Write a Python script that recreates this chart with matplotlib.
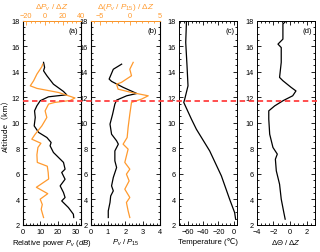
import numpy as np
import matplotlib
matplotlib.use("Agg")
import matplotlib.pyplot as plt
from matplotlib.ticker import MultipleLocator, AutoMinorLocator
from matplotlib.lines import Line2D
from matplotlib.transforms import blended_transform_factory

plt.rcParams['font.family'] = ['Liberation Sans', 'DejaVu Sans']
plt.rcParams['mathtext.fontset'] = 'custom'
plt.rcParams['mathtext.rm'] = 'Liberation Sans'
plt.rcParams['mathtext.it'] = 'Liberation Sans:italic'

ORANGE = "#ff9a2e"
RED = "#ff4040"

# (a) relative power Pv (dB) and its vertical gradient
alt_pa = [14.74, 14.35, 14.08, 13.69, 13.03, 12.46, 12.2, 12.04, 11.73, 11.33, 10.94,
          10.42, 9.76, 9.25, 8.85, 8.46, 8.2, 7.68, 6.9, 6.37, 6.11, 5.58, 5.06, 4.54,
          4.15, 3.88, 3.36, 2.84, 2.58]
pv_db = [11.8, 12.4, 11.8, 13.7, 17.4, 23.1, 24.9, 14.6, 9.9, 8.0, 6.7,
         7.1, 6.5, 9.0, 13.7, 16.1, 15.5, 17.4, 23.1, 24.0, 22.1, 24.0, 21.2, 23.1,
         24.0, 22.1, 25.9, 28.7, 28.9]
alt_dpa = [14.6, 14.4, 13.82, 13.3, 12.9, 12.7, 12.38, 11.95, 11.75, 11.6, 11.47,
           10.94, 10.42, 9.76, 9.11, 8.72, 8.4, 8.07, 7.5, 6.9, 6.6, 6.1, 5.6, 4.95,
           4.45, 4.02, 3.6, 3.23, 2.58]
dpv_dz = [-2.0, -3.0, -8.4, -12.0, -15.7, -8.4, 15.3, 33.4, 28.0, 11.2, 4.4,
          0.6, 2.5, -3.0, -10.3, -14.0, -4.0, -7.3, -8.4, -8.0, 3.0, 4.0, 4.5, -9.0,
          3.5, -4.8, -2.5, -3.7, -1.1]

# (b) Pv / P15 and its vertical gradient
alt_pb = [14.6, 14.2, 13.43, 13.25, 12.78, 12.3, 12.12, 11.78, 11.47, 10.68, 9.9,
          9.11, 8.59, 8.33, 7.8, 7.02, 6.5, 5.72, 5.06, 4.67, 4.27, 3.76, 3.1, 2.58]
pv_p15 = [1.79, 1.31, 1.07, 1.21, 1.88, 2.66, 2.08, 1.5, 1.40, 1.27, 1.12,
          1.21, 1.5, 1.6, 1.40, 1.40, 1.5, 1.31, 1.21, 1.31, 1.16, 1.12, 1.02, 1.02]
alt_dpb = [14.74, 14.2, 13.69, 13.17, 13.03, 12.64, 12.38, 12.12, 11.86, 11.6, 10.68,
           9.64, 8.85, 8.33, 7.94, 6.9, 6.37, 5.98, 5.45, 4.8, 4.15, 3.76, 3.1, 2.58]
dratio_dz = [0.56, 0.0, 0.28, -1.39, -2.2, -1.94, 0.28, 3.05, 1.94, 0.28, 0.0,
             -0.28, -0.44, -1.11, -0.28, -0.83, 0.0, -0.56, -0.11, -0.83, 0.0, -0.56,
             -0.28, 0.0]

# (c) temperature
alt_t = [18.0, 16.3, 14.47, 12.9, 11.86, 11.6, 10.29, 9.5, 7.8, 5.84, 4.0, 2.97, 2.45]
temp = [-62.0, -63.0, -61.3, -60.0, -64.3, -65.6, -55.5, -49.0, -31.5, -16.1, -5.2, 1.3, 2.6]

# (d) potential temperature gradient
alt_th = [18.0, 17.74, 16.56, 16.17, 15.9, 14.74, 13.56, 13.3, 12.78, 12.5, 12.12,
          11.73, 11.33, 10.94, 10.29, 9.11, 8.07, 7.55, 7.15, 6.24, 5.19, 4.02, 2.97, 2.45]
dtheta_dz = [-0.47, -0.86, -0.86, -1.45, -1.06, -1.06, -1.26, -0.86, 0.12, 0.7, 0.31,
             -0.86, -1.84, -2.55, -2.55, -2.44, -2.05, -1.53, -1.76, -1.65, -1.26, -1.06,
             -0.75, -0.59]

tropopause = 11.7

fig = plt.figure(figsize=(3.2, 2.53), dpi=100)
bottom, height = 0.107, 0.807
ax_a = fig.add_axes([0.071, bottom, 0.182, height])
ax_b = fig.add_axes([0.283, bottom, 0.217, height])
ax_c = fig.add_axes([0.559, bottom, 0.183, height])
ax_d = fig.add_axes([0.802, bottom, 0.183, height])

fs = 5.3
lfs = 5.6
lw = 0.9


def style(ax, top=True):
    ax.set_ylim(2, 18)
    ax.yaxis.set_major_locator(MultipleLocator(2))
    ax.yaxis.set_minor_locator(MultipleLocator(0.5))
    ax.xaxis.set_minor_locator(AutoMinorLocator())
    ax.tick_params(which="both", direction="in", right=True, top=top,
                   labelsize=fs, pad=2, width=0.6)
    ax.tick_params(which="major", length=3)
    ax.tick_params(which="minor", length=1.6)
    for s in ax.spines.values():
        s.set_linewidth(0.7)


def top_axis(ax, xlim, ticks):
    tw = ax.twiny()
    tw.set_xlim(*xlim)
    tw.set_xticks(ticks)
    tw.xaxis.set_minor_locator(AutoMinorLocator())
    tw.tick_params(which="both", direction="in", colors=ORANGE, labelsize=fs,
                   pad=1.5, width=0.6)
    tw.tick_params(which="major", length=3)
    tw.tick_params(which="minor", length=1.6)
    tw.spines["top"].set_color(ORANGE)
    tw.spines["top"].set_linewidth(0.7)
    return tw


# (a)
style(ax_a, top=False)
ax_a.plot(pv_db, alt_pa, color="black", lw=lw)
ax_a.set_xlim(0, 33)
ax_a.set_xticks([0, 10, 20, 30])
ax_a.set_xlabel("Relative power $P_v$ $(dB)$", fontsize=lfs, labelpad=1.5)
ax_a.set_ylabel("Altitude（km）", fontsize=lfs, labelpad=1,
                family=["Noto Sans CJK SC", "DejaVu Sans"])
tw_a = top_axis(ax_a, (-24, 40), [-20, 0, 20, 40])
tw_a.plot(dpv_dz, alt_dpa, color=ORANGE, lw=lw)
tw_a.set_xlabel(r"$\Delta P_v\ /\ \Delta Z$", fontsize=lfs + 0.3, color=ORANGE, labelpad=2.3)
ax_a.text(0.95, 0.97, "(a)", transform=ax_a.transAxes, ha="right", va="top", fontsize=lfs)

# (b)
style(ax_b, top=False)
ax_b.plot(pv_p15, alt_pb, color="black", lw=lw)
ax_b.set_xlim(0, 4)
ax_b.set_xticks([0, 1, 2, 3, 4])
ax_b.set_xlabel("$P_v$ / $P_{15}$", fontsize=lfs, labelpad=1.5)
tw_b = top_axis(ax_b, (-6.5, 5), [-5, 0, 5])
tw_b.plot(dratio_dz, alt_dpb, color=ORANGE, lw=lw)
tw_b.set_xlabel(r"$\Delta(P_v\ /\ P_{15})\ /\ \Delta Z$", fontsize=lfs + 0.3,
                color=ORANGE, labelpad=2.3)
ax_b.text(0.95, 0.97, "(b)", transform=ax_b.transAxes, ha="right", va="top", fontsize=lfs)

# (c)
style(ax_c)
ax_c.plot(temp, alt_t, color="black", lw=lw)
ax_c.set_xlim(-72, 5)
ax_c.set_xticks([-60, -40, -20, 0])
ax_c.set_xlabel("Temperature (℃)", fontsize=lfs, labelpad=1.5)
ax_c.text(0.95, 0.97, "(c)", transform=ax_c.transAxes, ha="right", va="top", fontsize=lfs)

# (d)
style(ax_d)
ax_d.plot(dtheta_dz, alt_th, color="black", lw=lw)
ax_d.set_xlim(-4, 3)
ax_d.set_xticks([-4, -2, 0, 2])
ax_d.set_xlabel(r"$\Delta\Theta\ /\ \Delta Z$", fontsize=lfs, labelpad=1.5)
ax_d.text(0.95, 0.97, "(d)", transform=ax_d.transAxes, ha="right", va="top", fontsize=lfs)

# tropopause line across all panels
trans = blended_transform_factory(fig.transFigure, ax_a.transData)
fig.add_artist(Line2D([0.071, 0.99], [tropopause, tropopause], transform=trans,
                      color=RED, lw=1.3, ls=(0, (3, 2))))

fig.savefig("out.png", dpi=100)
